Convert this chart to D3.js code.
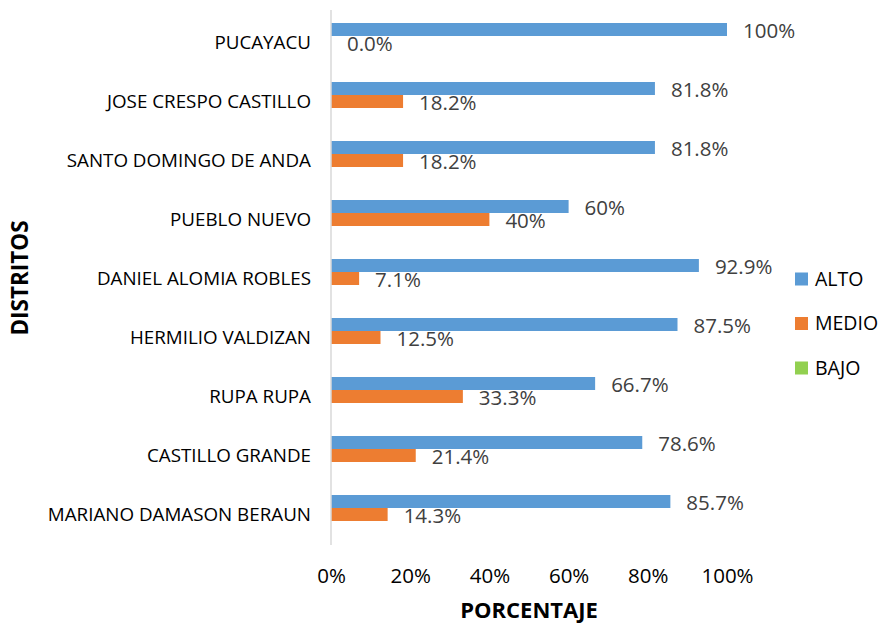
<!DOCTYPE html>
<html>
<head>
<meta charset="utf-8">
<script src="https://cdn.jsdelivr.net/npm/d3@7"></script>
<style>
  body { margin: 0; background: #fff; }
  svg { font-family: "Open Sans", sans-serif; }
</style>
</head>
<body>
<svg width="884" height="625"></svg>
<script>
// distritos, de arriba hacia abajo
var distritos = ["PUCAYACU", "JOSE CRESPO CASTILLO", "SANTO DOMINGO DE ANDA", "PUEBLO NUEVO",
    "DANIEL ALOMIA ROBLES", "HERMILIO VALDIZAN", "RUPA RUPA", "CASTILLO GRANDE", "MARIANO DAMASON BERAUN"];
var alto = [100, 81.8, 81.8, 60, 92.9, 87.5, 66.7, 78.6, 85.7];
var medio = [0, 18.2, 18.2, 40, 7.1, 12.5, 33.3, 21.4, 14.3];
var bajo = [0, 0, 0, 0, 0, 0, 0, 0, 0];
var altoLabels = ["100%", "81.8%", "81.8%", "60%", "92.9%", "87.5%", "66.7%", "78.6%", "85.7%"];
var medioLabels = ["0.0%", "18.2%", "18.2%", "40%", "7.1%", "12.5%", "33.3%", "21.4%", "14.3%"];
var series = ["ALTO", "MEDIO", "BAJO"];
var colores = ["#5B9BD5", "#ED7D31", "#92D050"];
var ticks = [0, 20, 40, 60, 80, 100];

var svg = d3.select("svg");

var x = d3.scaleLinear().domain([0, 100]).range([331, 727]);
var y = d3.scaleBand().domain(distritos).range([13, 544]).paddingInner(20 / 59).paddingOuter(10 / 59);
var ySub = d3.scaleBand().domain(series).range([0, y.bandwidth()]);

var valores = { "ALTO": alto, "MEDIO": medio, "BAJO": bajo };
var etiquetas = { "ALTO": altoLabels, "MEDIO": medioLabels };

// barras
series.forEach(function (s, k) {
    svg.append("g").selectAll("rect").data(distritos).enter().append("rect")
        .attr("x", x(0))
        .attr("y", function (d) { return y(d) + ySub(s); })
        .attr("width", function (d, i) { return x(valores[s][i]) - x(0); })
        .attr("height", ySub.bandwidth())
        .attr("fill", colores[k]);
});

// etiquetas de valores
["ALTO", "MEDIO"].forEach(function (s) {
    svg.append("g").selectAll("text").data(distritos).enter().append("text")
        .attr("x", function (d, i) { return x(valores[s][i]) + 16; })
        .attr("y", function (d) { return y(d) + ySub(s) + ySub.bandwidth() / 2 + 1; })
        .attr("dy", "0.35em")
        .attr("font-size", 20.5)
        .attr("fill", "#404040")
        .text(function (d, i) { return etiquetas[s][i]; });
});

// eje vertical
svg.append("line")
    .attr("x1", x(0)).attr("x2", x(0))
    .attr("y1", 10).attr("y2", 545)
    .attr("stroke", "#d9d9d9").attr("stroke-width", 1.5);

// nombres de distritos
svg.append("g").selectAll("text").data(distritos).enter().append("text")
    .attr("x", 311)
    .attr("y", function (d) { return y(d) + y.bandwidth() / 2; })
    .attr("dy", "0.35em")
    .attr("text-anchor", "end")
    .attr("font-size", 18.8)
    .attr("fill", "#000")
    .text(function (d) { return d; });

// eje x
var xAxis = d3.axisBottom(x).tickValues(ticks).tickSize(0).tickFormat(function (d) { return d + "%"; });
var gx = svg.append("g").attr("transform", "translate(0,565)").call(xAxis);
gx.select(".domain").remove();
gx.selectAll("text").attr("font-size", 20.5).attr("fill", "#000").attr("font-family", "Open Sans");

// titulos
svg.append("text")
    .attr("x", (x(0) + x(100)) / 2).attr("y", 610.5).attr("dy", "0.35em")
    .attr("text-anchor", "middle").attr("font-size", 22).attr("font-weight", "bold")
    .text("PORCENTAJE");
svg.append("text")
    .attr("transform", "translate(20,278) rotate(-90)")
    .attr("dy", "0.35em")
    .attr("text-anchor", "middle").attr("font-size", 22.5).attr("font-weight", "bold")
    .text("DISTRITOS");

// leyenda
var leg = svg.append("g").selectAll("g").data(series).enter().append("g")
    .attr("transform", function (d, i) { return "translate(795," + (279 + i * 44.5) + ")"; });
leg.append("rect").attr("x", 0).attr("y", -6.5).attr("width", 13).attr("height", 13)
    .attr("fill", function (d, i) { return colores[i]; });
leg.append("text").attr("x", 20).attr("dy", "0.35em").attr("font-size", 19.5).attr("fill", "#000")
    .text(function (d) { return d; });
</script>
</body>
</html>
